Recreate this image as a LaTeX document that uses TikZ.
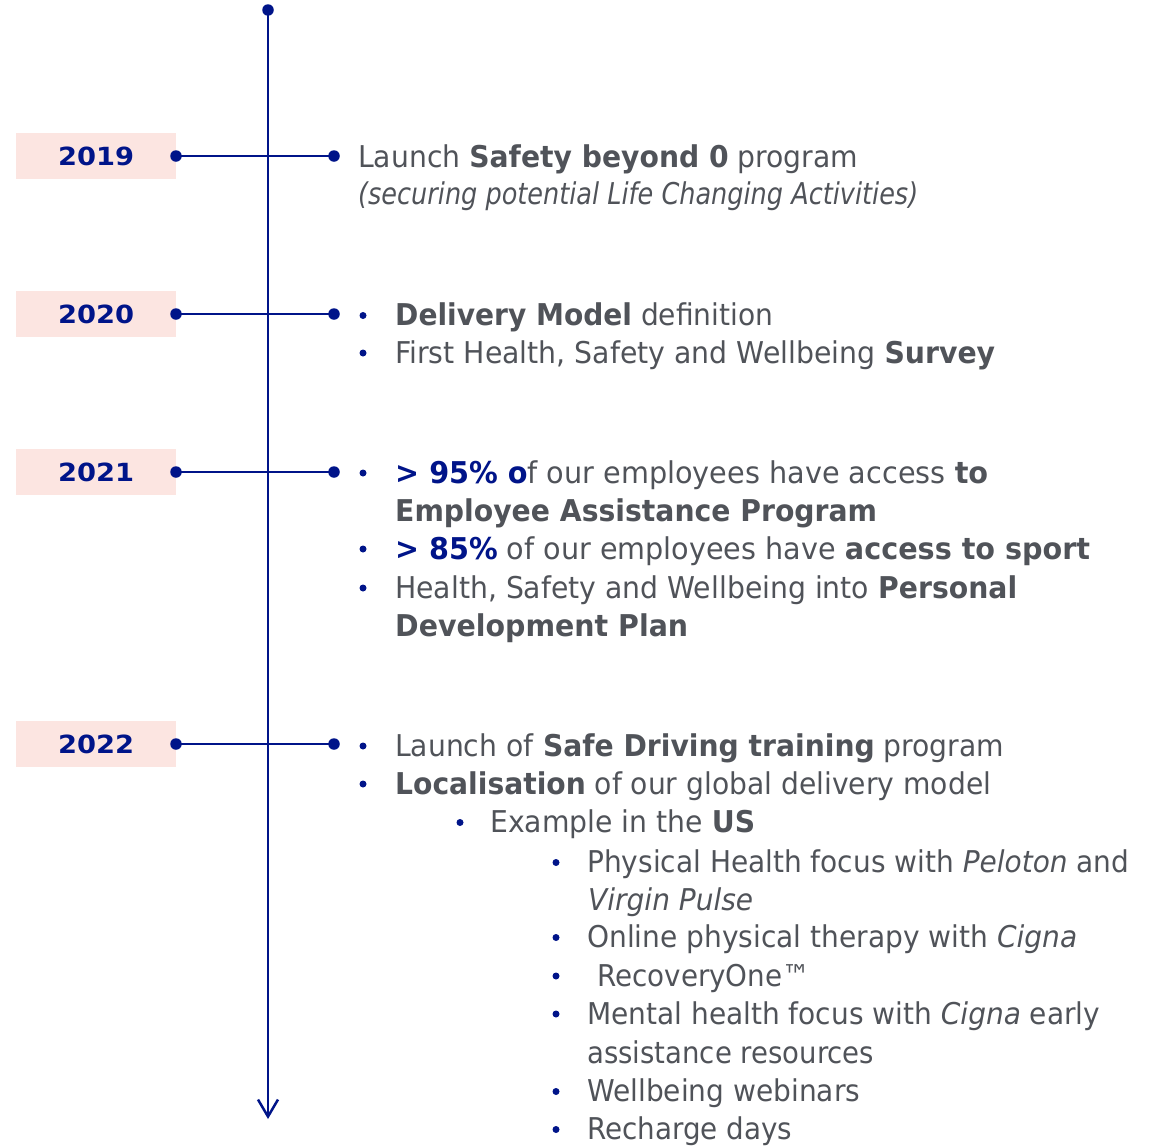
\documentclass[tikz,border=0pt]{standalone}
\usepackage{fontspec}
\setmainfont{DejaVu Sans}
\usetikzlibrary{arrows.meta}
\definecolor{navy}{RGB}{0,20,137}
\definecolor{txtgray}{RGB}{80,83,89}
\definecolor{pinkbox}{RGB}{252,229,225}
\newsavebox\fitbox
\newcommand\fitw[2]{\sbox\fitbox{#2}\scalebox{\fpeval{#1/(\the\wd\fitbox)}}[1]{\usebox\fitbox}}
\newcommand\hb[1]{\textcolor{navy}{\textbf{#1}}}
\begin{document}
\begin{tikzpicture}[x=1pt,y=-1pt,
  yearbox/.style={fill=pinkbox, minimum width=160, minimum height=46, inner sep=0, text=navy, font=\fontsize{25}{25}\selectfont\bfseries},
  enddot/.style={circle, fill=navy, inner sep=0, minimum size=11.5},
  bul/.style={circle, fill=navy, inner sep=0, minimum size=7},
  txtline/.style={anchor=base west, inner sep=0, text=txtgray, font=\fontsize{30}{36}\selectfont},
  axis/.style={draw=navy, line width=2.5},
  arm/.style={draw=navy, line width=2.5}]
\useasboundingbox (0,0) rectangle (1158,1146);

% main axis
\node[enddot] (top) at (268,10) {};
\coordinate (bottom) at (268,1119);
\draw[axis, -{Straight Barb[length=17pt,width=20pt,line width=2.5pt]}] (top.center) -- (bottom);

% year rows
\foreach \yr/\yy in {2019/156, 2020/314, 2021/472, 2022/744}{
  \node[yearbox] (y\yr) at (96,\yy) {\raisebox{-1pt}{\fitw{76}{\yr}}};
  \node[enddot] (l\yr) at (176,\yy) {};
  \node[enddot] (r\yr) at (334,\yy) {};
  \draw[arm] (l\yr.center) -- (r\yr.center);
}

% 2019
\node[txtline] (t1) at (358,167.5) {\fitw{500}{Launch \textbf{Safety beyond 0} program}};
\node[txtline] (t2) at (358,204) {\fitw{560}{\itshape (securing potential Life Changing Activities)}};

% 2020
\node[txtline] (t3) at (395,325.5) {\fitw{378}{\textbf{Delivery Model} definition}};
\node[txtline] (t4) at (395,363) {\fitw{600}{First Health, Safety and Wellbeing \textbf{Survey}}};

% 2021
\node[txtline] (t5) at (395,483) {\fitw{593}{\hb{> 95\% o}f our employees have access \textbf{to}}};
\node[txtline] (t6) at (395,521) {\fitw{482}{\textbf{Employee Assistance Program}}};
\node[txtline] (t7) at (395,559) {\fitw{695}{\hb{> 85\%} of our employees have \textbf{access to sport}}};
\node[txtline] (t8) at (395,598) {\fitw{622}{Health, Safety and Wellbeing into \textbf{Personal}}};
\node[txtline] (t9) at (395,636) {\fitw{293}{\textbf{Development Plan}}};

% 2022
\node[txtline] (t10) at (395,756) {\fitw{609}{Launch of \textbf{Safe Driving training} program}};
\node[txtline] (t11) at (395,794) {\fitw{596}{\textbf{Localisation} of our global delivery model}};
\node[txtline] (t12) at (490,832.5) {\fitw{265}{Example in the \textbf{US}}};
\node[txtline] (t13) at (587,872.5) {\fitw{542}{Physical Health focus with \textit{Peloton} and}};
\node[txtline] (t14) at (588,910) {\fitw{165}{\itshape Virgin Pulse}};
\node[txtline] (t15) at (587,947.5) {\fitw{490}{Online physical therapy with \textit{Cigna}}};
\node[txtline] (t16) at (597,986) {\fitw{213}{RecoveryOne™}};
\node[txtline] (t17) at (587,1024) {\fitw{513}{Mental health focus with \textit{Cigna} early}};
\node[txtline] (t18) at (587,1063) {\fitw{287}{assistance resources}};
\node[txtline] (t19) at (587,1101.5) {\fitw{273}{Wellbeing webinars}};
\node[txtline] (t20) at (587,1139.5) {\fitw{205}{Recharge days}};

% bullets
\foreach \n/\bx/\by in {3/363/325.5, 4/363/363, 5/363/483, 7/363/559, 8/363/598,
  10/363/756, 11/363/794, 12/460/832.5, 13/556/872.5, 15/556/947.5, 16/556/986,
  17/556/1024, 19/556/1101.5, 20/556/1139.5}{
  \node[bul] (b\n) at (\bx,\by-10) {};
}
\end{tikzpicture}
\end{document}
